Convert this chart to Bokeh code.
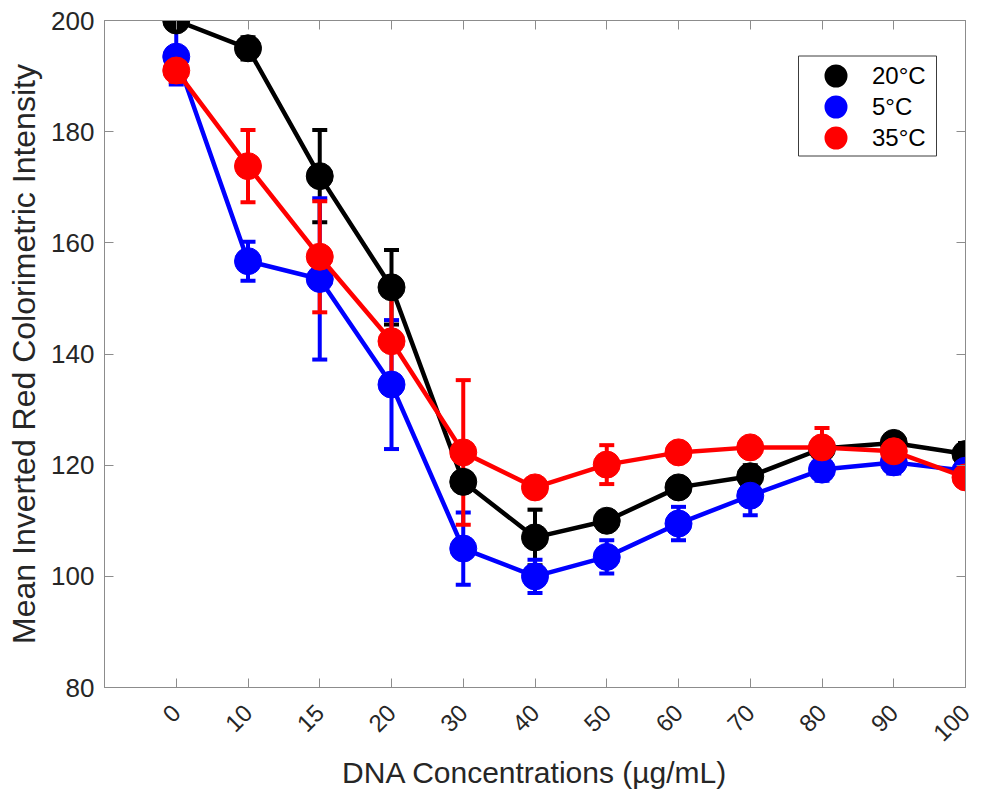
import math
from bokeh.plotting import figure
from bokeh.models import (ColumnDataSource, Whisker, TeeHead, Legend, LegendItem,
                          LinearAxis, FixedTicker, Range1d, BoxAnnotation)
from bokeh.embed import file_html
from bokeh.resources import INLINE

categories = ["0", "10", "15", "20", "30", "40", "50", "60", "70", "80", "90", "100"]

t20_mean = [200, 195, 172, 152, 117, 107, 110, 116, 118, 123, 124, 122]
t20_err = [1, 2, 8.3, 6.7, 1, 5, 1, 1, 2, 1, 1, 2]

t5_mean = [193.5, 156.7, 153.5, 134.5, 105, 100, 103.5, 109.5, 114.5, 119.2, 120.5, 119]
t5_err = [5, 3.5, 14.5, 11.6, 6.5, 3, 3, 3, 3.5, 2, 2, 2]

t35_mean = [191, 173.8, 157.5, 142.3, 122.3, 116, 120.1, 122.3, 123.2, 123.2, 122.5, 117.8]
t35_err = [2, 6.5, 10, 8.5, 13, 1, 3.5, 1, 1, 3.5, 1, 1]

y_ticks = [80, 100, 120, 140, 160, 180, 200]

series = [
    ("20°C", t20_mean, t20_err, "#000000"),
    ("5°C", t5_mean, t5_err, "#0000ff"),
    ("35°C", t35_mean, t35_err, "#ff0000"),
]

FONT = "Liberation Sans"
TEXT = "#262626"
xs = list(range(len(categories)))

X0, X1, Y0, Y1 = -1, 11, 80, 200
FW, FH = 861, 667

p = figure(output_backend="svg", toolbar_location=None,
           frame_width=FW, frame_height=FH,
           x_range=Range1d(X0, X1), y_range=Range1d(Y0, Y1),
           min_border_left=104, min_border_top=20, min_border_right=19, min_border_bottom=106)
p.xgrid.visible = False
p.ygrid.visible = False
p.outline_line_color = "#8c8c8c"
p.outline_line_width = 1

nan = float("nan")
legend_items = []
for name, mean, err, color in series:
    lower = [m - e for m, e in zip(mean, err)]
    upper = [m + e for m, e in zip(mean, err)]
    src = ColumnDataSource(dict(x=xs, y=mean, lower=lower, upper=upper))
    w = Whisker(source=src, base="x", lower="lower", upper="upper",
                line_color=color, line_width=4,
                lower_head=TeeHead(size=15, line_color=color, line_width=4),
                upper_head=TeeHead(size=15, line_color=color, line_width=4))
    p.add_layout(w)
    p.line("x", "y", source=src, line_color=color, line_width=4.5)
    p.scatter("x", "y", source=src, size=27, fill_color=color, line_color=color,
              line_width=1, marker="circle")
    # legend swatch: a circle with a thick outline of the same colour draws a big dot
    sw = p.scatter(x=[nan], y=[nan], size=10, marker="circle", fill_color=color,
                   line_color=color, line_width=13)
    legend_items.append(LegendItem(label=name, renderers=[sw]))

ticker_x = FixedTicker(ticks=xs)
ticker_y = FixedTicker(ticks=y_ticks)

xax = p.xaxis[0]
yax = p.yaxis[0]
xax.ticker = ticker_x
yax.ticker = ticker_y
xax.axis_label = "DNA Concentrations (µg/mL)"
yax.axis_label = "Mean Inverted Red Colorimetric Intensity"

top_ax = LinearAxis(ticker=ticker_x)
right_ax = LinearAxis(ticker=ticker_y)
p.add_layout(top_ax, "above")
p.add_layout(right_ax, "right")

for ax in (xax, yax, top_ax, right_ax):
    ax.axis_line_color = "#8c8c8c"
    ax.major_tick_line_color = "#8c8c8c"
    ax.major_tick_line_width = 1
    ax.major_tick_in = 9
    ax.major_tick_out = 0
    ax.minor_tick_line_color = None
    ax.major_label_text_font = FONT
    ax.axis_label_text_font = FONT
    ax.axis_label_text_font_style = "normal"
    ax.axis_label_text_color = TEXT

for ax in (top_ax, right_ax):
    ax.major_label_text_font_size = "1px"
    ax.major_label_text_color = None
    ax.major_label_standoff = 0

yax.major_label_text_font_size = "26px"
yax.major_label_text_color = TEXT
yax.major_label_standoff = 10
yax.axis_label_standoff = 6
yax.axis_label_text_font_size = "32px"

xax.major_label_overrides = {i: c for i, c in enumerate(categories)}
xax.major_label_orientation = math.pi / 4
xax.major_label_text_font_size = "24px"
xax.major_label_text_color = TEXT
xax.major_label_standoff = 21
xax.axis_label_text_font_size = "30px"
xax.axis_label_standoff = 4

# legend frame (pixel positions converted into data units)
def dx(px):
    return X0 + px * (X1 - X0) / FW

def dy(px_from_top):
    return Y1 - px_from_top * (Y1 - Y0) / FH

p.add_layout(BoxAnnotation(left=dx(694), right=dx(832), top=dy(35.5), bottom=dy(135.5),
                           fill_color="white", fill_alpha=1,
                           line_color="#3c3c3c", line_width=1, line_alpha=1))

legend = Legend(items=legend_items, location=(719, 534))
legend.label_text_font = FONT
legend.label_text_font_size = "24px"
legend.label_text_color = "#000000"
legend.glyph_width = 25
legend.glyph_height = 31
legend.spacing = 0
legend.padding = 5
legend.margin = 0
legend.label_standoff = 24
legend.border_line_color = None
legend.background_fill_alpha = 0
p.add_layout(legend, "center")

open("out.html", "w").write(file_html(p, INLINE))
